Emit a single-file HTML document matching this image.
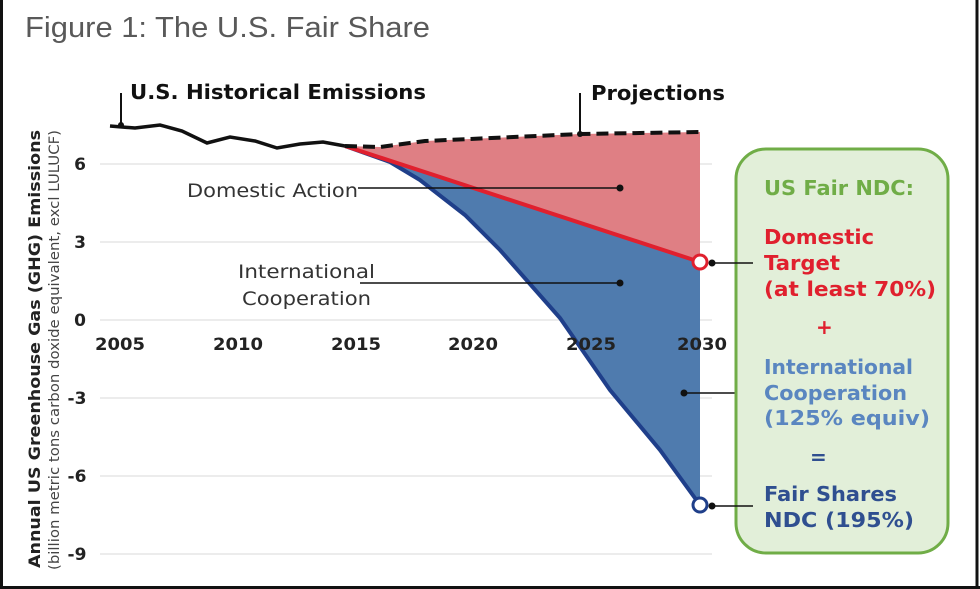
<!DOCTYPE html>
<html><head><meta charset="utf-8"><style>
body{margin:0;background:#fff;}
svg{display:block;}
text{font-family:"DejaVu Sans",Verdana,sans-serif;}
</style></head><body>
<svg width="980" height="589" viewBox="0 0 980 589" xmlns="http://www.w3.org/2000/svg">
<rect x="0" y="0" width="980" height="589" fill="#fff"/>
<line x1="1.5" y1="0" x2="1.5" y2="589" stroke="#111" stroke-width="3"/>
<line x1="977" y1="0" x2="977" y2="589" stroke="#111" stroke-width="3"/>
<line x1="0" y1="587.5" x2="980" y2="587.5" stroke="#111" stroke-width="3"/>
<text x="25" y="37" style="font-family:'Liberation Sans',sans-serif" font-size="29" fill="#595959" textLength="405" lengthAdjust="spacingAndGlyphs">Figure 1: The U.S. Fair Share</text>
<g stroke="#d9d9d9" stroke-width="1">
<line x1="100" y1="164" x2="712" y2="164"/><line x1="100" y1="242" x2="712" y2="242"/>
<line x1="100" y1="320" x2="712" y2="320"/><line x1="100" y1="398" x2="712" y2="398"/>
<line x1="100" y1="476" x2="712" y2="476"/><line x1="100" y1="554" x2="712" y2="554"/>
</g>
<g font-size="17" font-weight="bold" fill="#222" text-anchor="middle">
<text x="80" y="170">6</text><text x="80" y="248">3</text><text x="80" y="326">0</text>
<text x="77" y="404">-3</text><text x="77" y="482">-6</text><text x="77" y="560">-9</text>
</g>
<polygon points="345,146 380,147 425,141 580,134 700,132 700,262" fill="#df7f84"/>
<polygon points="345,146 700,262 700,505 660,450 610,390 560,318 500,250 465,215 420,180 390,162" fill="#4f7bae"/>
<polyline points="345,146 390,162 420,180 465,215 500,250 560,318 610,390 660,450 700,505" fill="none" stroke="#1f3f8a" stroke-width="4"/>
<line x1="345" y1="146" x2="700" y2="262" stroke="#e0202e" stroke-width="4"/>
<polyline points="345,146 380,147 425,141 580,134 700,132" fill="none" stroke="#111" stroke-width="4" stroke-dasharray="12,6"/>
<polyline points="110,126 122,127 135,128 160,125 182,131 207,143 230,137 255,141 277,148 300,144 323,142 345,146" fill="none" stroke="#111" stroke-width="3.5"/>
<g font-size="17" font-weight="bold" fill="#222" text-anchor="middle">
<text x="120" y="350" textLength="50" lengthAdjust="spacingAndGlyphs">2005</text><text x="238" y="350" textLength="50" lengthAdjust="spacingAndGlyphs">2010</text><text x="356" y="350" textLength="50" lengthAdjust="spacingAndGlyphs">2015</text>
<text x="473" y="350" textLength="50" lengthAdjust="spacingAndGlyphs">2020</text><text x="591" y="350" textLength="50" lengthAdjust="spacingAndGlyphs">2025</text><text x="702" y="350" textLength="50" lengthAdjust="spacingAndGlyphs">2030</text>
</g>
<line x1="121" y1="93" x2="121" y2="126" stroke="#111" stroke-width="2"/>
<circle cx="121" cy="125" r="3" fill="#111"/>
<text x="130" y="99" font-size="20" font-weight="bold" fill="#111" textLength="296" lengthAdjust="spacingAndGlyphs">U.S. Historical Emissions</text>
<line x1="580" y1="93" x2="580" y2="134" stroke="#111" stroke-width="2"/>
<circle cx="580" cy="134" r="3" fill="#111"/>
<text x="591" y="100" font-size="20" font-weight="bold" fill="#111" textLength="134" lengthAdjust="spacingAndGlyphs">Projections</text>
<text x="187" y="197" font-size="19" fill="#333" textLength="171" lengthAdjust="spacingAndGlyphs">Domestic Action</text>
<line x1="358" y1="188" x2="620" y2="188" stroke="#111" stroke-width="1.5"/><circle cx="620" cy="188" r="3.5" fill="#111"/>
<text x="238" y="278" font-size="19" fill="#333" textLength="137" lengthAdjust="spacingAndGlyphs">International</text>
<text x="242" y="305" font-size="19" fill="#333" textLength="129" lengthAdjust="spacingAndGlyphs">Cooperation</text>
<line x1="360" y1="283" x2="620" y2="283" stroke="#111" stroke-width="1.5"/><circle cx="620" cy="283" r="3.5" fill="#111"/>
<line x1="684" y1="393" x2="753" y2="393" stroke="#111" stroke-width="1.5"/><circle cx="684" cy="393" r="3.5" fill="#111"/>
<text transform="translate(40,568) rotate(-90)" font-size="16" font-weight="bold" fill="#222" textLength="438" lengthAdjust="spacingAndGlyphs">Annual US Greenhouse Gas (GHG) Emissions</text>
<text transform="translate(59,570) rotate(-90)" font-size="14" fill="#444" textLength="440" lengthAdjust="spacingAndGlyphs">(billion metric tons carbon doxide equivalent, excl LULUCF)</text>
<rect x="736" y="149" width="212" height="404" rx="30" fill="#e2efd9" stroke="#70ad47" stroke-width="3"/>
<line x1="712" y1="263" x2="753" y2="263" stroke="#111" stroke-width="1.5"/><circle cx="712" cy="263" r="3.5" fill="#111"/>
<line x1="712" y1="506" x2="753" y2="506" stroke="#111" stroke-width="1.5"/><circle cx="712" cy="506" r="3.5" fill="#111"/>
<circle cx="700" cy="262" r="7" fill="#fff" stroke="#e0202e" stroke-width="3"/>
<circle cx="700" cy="505" r="7" fill="#fff" stroke="#1f3f8a" stroke-width="3"/>
<g font-size="20" font-weight="bold" lengthAdjust="spacingAndGlyphs">
<text x="764" y="195" fill="#70ad47" textLength="150" lengthAdjust="spacingAndGlyphs">US Fair NDC:</text>
<text x="764" y="244" fill="#e0202e" textLength="110" lengthAdjust="spacingAndGlyphs">Domestic</text>
<text x="764" y="270" fill="#e0202e" textLength="76" lengthAdjust="spacingAndGlyphs">Target</text>
<text x="764" y="296" fill="#e0202e" textLength="172" lengthAdjust="spacingAndGlyphs">(at least 70%)</text>
<text x="816" y="334" fill="#e0202e">+</text>
<text x="764" y="374" fill="#5a86c0" textLength="149" lengthAdjust="spacingAndGlyphs">International</text>
<text x="764" y="400" fill="#5a86c0" textLength="143" lengthAdjust="spacingAndGlyphs">Cooperation</text>
<text x="764" y="425" fill="#5a86c0" textLength="166" lengthAdjust="spacingAndGlyphs">(125% equiv)</text>
<text x="810" y="464" fill="#2f4f90">=</text>
<text x="764" y="501" fill="#2f4f90" textLength="133" lengthAdjust="spacingAndGlyphs">Fair Shares</text>
<text x="764" y="527" fill="#2f4f90" textLength="150" lengthAdjust="spacingAndGlyphs">NDC (195%)</text>
</g>
</svg>
</body></html>
